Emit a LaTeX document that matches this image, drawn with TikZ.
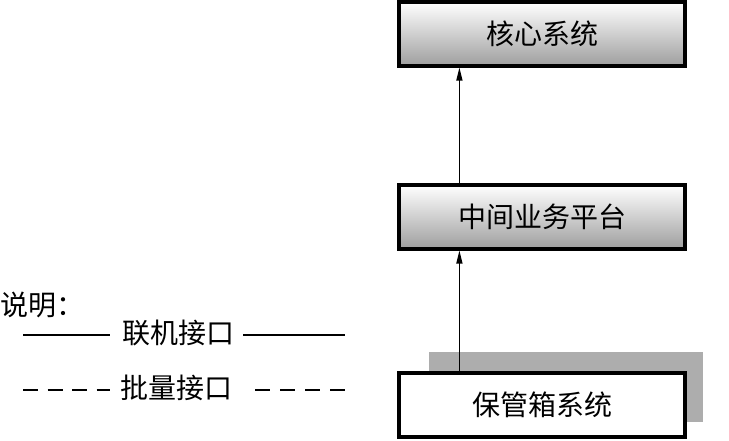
\documentclass[tikz,border=0pt]{standalone}
\usepackage{fontspec}
\newfontfamily\cjk{Noto Sans CJK SC}
\usetikzlibrary{arrows.meta}
\begin{document}
\begin{tikzpicture}[x=1pt,y=1pt,
  sysbox/.style={draw=black, line width=3.2pt, minimum width=286pt, minimum height=64pt,
     inner sep=0pt, font=\cjk\fontsize{28}{32}\selectfont},
  gradbox/.style={sysbox, top color=white, bottom color=black!38},
  plainbox/.style={sysbox, fill=white},
  flow/.style={line width=1.3pt, -{Triangle[length=13pt,width=6pt]}},
  legtext/.style={font=\cjk\fontsize{28}{32}\selectfont, inner sep=0pt},
  legline/.style={line width=1.2pt},
  legdash/.style={line width=1.2pt, dash pattern=on 15pt off 9.5pt}]
\useasboundingbox (0,0) rectangle (729,440);
% shadow block behind bottom box
\fill[black!32] (429,18) rectangle (703,88);
\node[gradbox] (core) at (542,406) {核心系统};
\node[gradbox] (mid) at (542,223) {中间业务平台};
\node[plainbox] (safe) at (542,35) {保管箱系统};
\draw[flow] ([xshift=62pt]safe.north west) -- ([xshift=62pt]mid.south west);
\draw[flow] ([xshift=62pt]mid.north west) -- ([xshift=62pt]core.south west);
% legend
\node[legtext, anchor=west] (note) at (0.5,135) {说明：};
\node[legtext] (online) at (178,107) {联机接口};
\node[legtext] (batch) at (176,52) {批量接口};
\coordinate (l1a) at (23,105);
\coordinate (l1b) at (110,105);
\coordinate (l2a) at (243,105);
\coordinate (l2b) at (345,105);
\coordinate (d1a) at (23,50);
\coordinate (d1b) at (110,50);
\coordinate (d2a) at (255,50);
\coordinate (d2b) at (345,50);
\draw[legline] (l1a) -- (l1b);
\draw[legline] (l2a) -- (l2b);
\draw[legdash] (d1a) -- (d1b);
\draw[legdash, dash pattern=on 15pt off 10pt] (d2a) -- (d2b);
\end{tikzpicture}
\end{document}
